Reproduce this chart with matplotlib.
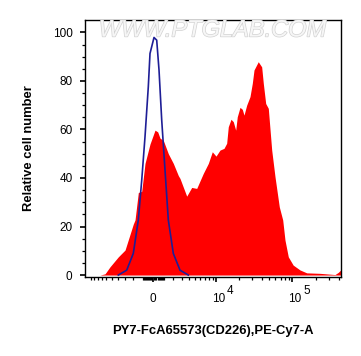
import matplotlib
matplotlib.use("Agg")
import matplotlib.pyplot as plt
import matplotlib.patheffects as pe
from matplotlib.transforms import ScaledTranslation
import numpy as np

plt.rcParams["font.family"] = ["Liberation Sans", "DejaVu Sans"]

# Sample (red, filled) histogram
sample_x = [-11900, -7420, -6290, -5310, -3930, -2990, -2000, -1810, -1460, -1115,
            -790, -312, 160, 415, 636, 956, 1462, 2000, 2580, 2790,
            3694, 4460, 5330, 6660, 7836, 8900, 10000, 11320, 12800, 13900,
            14600, 15850, 16990, 18280, 19170, 20820, 22300, 23480, 25450, 28100,
            30120, 31700, 36000, 39870, 41860, 44960, 48600, 53800, 59360, 67460,
            74700, 79950, 88250, 102000, 125000, 152700, 227000, 354800, 391400, 418000]
sample_y = [0, 0, 0.5, 3.4, 7.5, 10.3, 21.0, 22.7, 34.0, 34.5,
            46.0, 54.0, 59.7, 59.0, 56.4, 55.5, 50.0, 46.0, 41.0, 39.8,
            32.5, 36.1, 35.7, 41.9, 46.0, 50.8, 49.0, 51.5, 52.2, 54.3,
            61.1, 64.2, 63.2, 59.7, 65.2, 69.1, 68.3, 65.9, 70.0, 73.5,
            79.0, 84.5, 87.9, 85.8, 79.0, 70.7, 68.7, 51.5, 40.5, 28.1,
            22.7, 14.4, 7.5, 4.1, 2.1, 0.9, 0.7, 0.2, 1.1, 2.0]

# Isotype control (blue line)
ctrl_x = [-3930, -2780, -2000, -1460, -1115, -790, -473, -312, 66, 321,
          540, 800, 1125, 1462, 2000, 2790, 3930]
ctrl_y = [0, 2, 8.9, 22.7, 39, 57, 77.6, 91.3, 97.9, 96.8,
          84.5, 63.9, 43.3, 22.7, 8.9, 2, 0]

major_ticks = [0, 1e4, 1e5]
major_labels = ["0", "10", "10"]
exponents = ["4", "5"]

# biexponential-like axis
C = 3164.0
def fwd(x):
    return np.arcsinh(np.asarray(x) / C)
def inv(y):
    return C * np.sinh(np.asarray(y))

fig = plt.figure(figsize=(3.61, 3.56), dpi=100)
ax = fig.add_axes([85 / 361, 1 - 276.5 / 356, 255.5 / 361, 256.5 / 356])
ax.set_xscale("function", functions=(fwd, inv))

ax.fill_between(sample_x, sample_y, 0, color="#ff0000", linewidth=0)
ax.plot(ctrl_x, ctrl_y, color="#1e1e96", linewidth=1.2)

ax.set_xlim(-11900, 418000)
ax.set_ylim(-0.6, 105.1)

minor = np.concatenate([
    -np.arange(1000, 10001, 1000), -np.arange(100, 1000, 100),
    np.arange(100, 1000, 100), np.arange(1000, 10000, 1000),
    np.arange(20000, 100000, 10000), np.arange(200000, 410000, 100000)])
ax.set_xticks(major_ticks)
ax.set_xticklabels(major_labels)
ax.set_xticks(minor, minor=True)
ax.set_yticks(np.arange(0, 101, 20))
ax.set_yticks(np.arange(0, 101, 5), minor=True)

ax.tick_params(which="major", length=3.5, width=1.2, labelsize=8.5, color="black")
ax.tick_params(which="minor", length=2.2, width=0.9, color="black")
ax.tick_params(axis="x", which="major", pad=8.6)
ax.tick_params(axis="y", which="major", pad=5.5)

# the "10" bases sit a little right of their ticks
for lab in ax.get_xticklabels()[1:]:
    lab.set_transform(lab.get_transform() + ScaledTranslation(2.5 / 100, 0, fig.dpi_scale_trans))

for xv, e in zip(major_ticks[1:], exponents):
    ax.annotate(e, xy=(xv, 0), xycoords=("data", "axes fraction"),
                xytext=(8.0, -12.8), textcoords="offset points",
                ha="left", va="baseline", fontsize=8.5)

for s in ax.spines.values():
    s.set_linewidth(1.0)

ax.set_xlabel("PY7-FcA65573(CD226),PE-Cy7-A", fontsize=9.4, fontweight="bold", labelpad=14)
ax.set_ylabel("Relative cell number", fontsize=9.4, fontweight="bold", labelpad=13)

fig.text(212.5 / 361, 1 - 18.5 / 356, "WWW.PTGLAB.COM", ha="center", va="top",
         fontsize=17, style="italic", color="#f6f6f6",
         path_effects=[pe.withStroke(linewidth=1.0, foreground="#d2d2d2")])

fig.savefig("out.png", dpi=100)
